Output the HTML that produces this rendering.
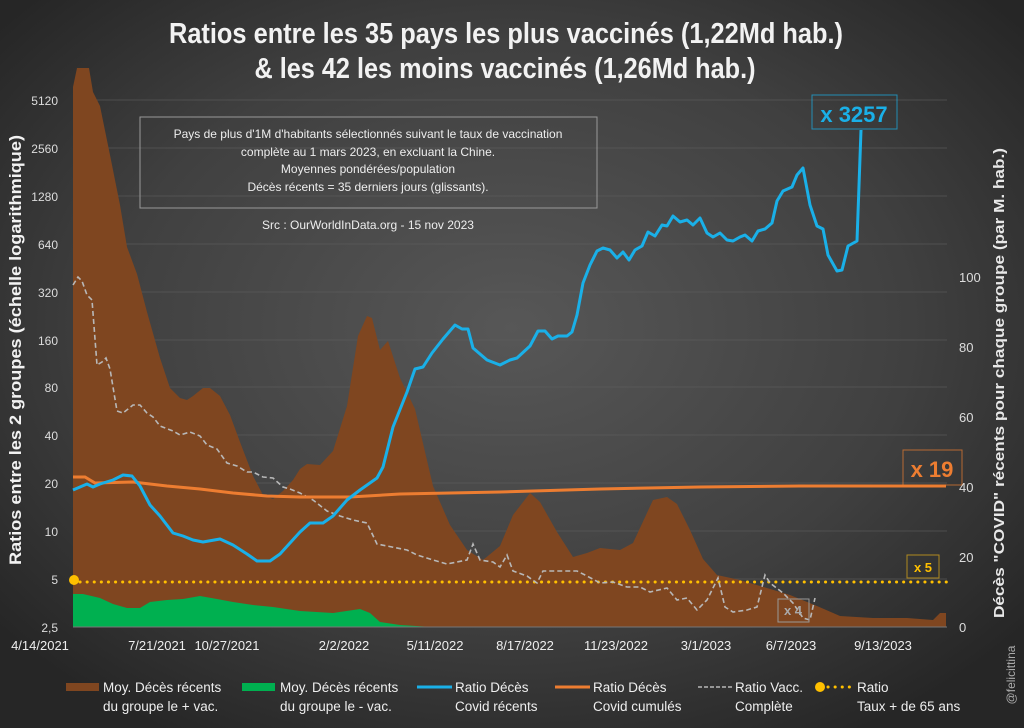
<!DOCTYPE html>
<html><head><meta charset="utf-8"><style>
html,body{margin:0;padding:0;background:#2b2b2b;}
svg{display:block;font-family:"Liberation Sans",sans-serif;}
</style></head><body>
<svg width="1024" height="728" viewBox="0 0 1024 728" xmlns="http://www.w3.org/2000/svg">
<defs>
<radialGradient id="bg" cx="50%" cy="45%" r="65%">
<stop offset="0" stop-color="#575757"/><stop offset="0.6" stop-color="#404040"/><stop offset="1" stop-color="#262626"/>
</radialGradient>
</defs>
<rect width="1024" height="728" fill="url(#bg)"/>
<g stroke="#5e5e5e" stroke-width="1" opacity="0.6">
<line x1="73" x2="947" y1="579" y2="579"/><line x1="73" x2="947" y1="531" y2="531"/>
<line x1="73" x2="947" y1="483" y2="483"/><line x1="73" x2="947" y1="435" y2="435"/>
<line x1="73" x2="947" y1="387" y2="387"/><line x1="73" x2="947" y1="340" y2="340"/>
<line x1="73" x2="947" y1="292" y2="292"/><line x1="73" x2="947" y1="244" y2="244"/>
<line x1="73" x2="947" y1="196" y2="196"/><line x1="73" x2="947" y1="148" y2="148"/>
<line x1="73" x2="947" y1="100" y2="100"/>
</g>
<path fill="#7f4620" d="M73,627 L73,87 77,68 89,68 93,92 100,106 110,155 120,205 127,247 137,274 147,312 160,358 170,388 180,398 187,400 193,396 203,388 210,388 220,396 230,415 240,442 253,476 263,495 273,499 283,491 293,480 300,469 307,464 320,465 333,451 347,406 358,336 367,316 372,318 380,350 388,341 400,378 415,409 433,486 450,525 467,550 483,560 500,546 513,515 530,493 540,502 557,532 573,557 587,553 600,548 620,550 633,543 653,500 667,497 677,504 690,530 703,559 717,575 740,580 767,588 790,595 817,606 840,616 873,618 907,618 933,620 940,613 946,613 946,627 Z"/>
<path fill="#00b050" d="M73,627 L73,594 83,594 100,598 113,604 127,608 140,608 150,602 167,600 183,599 200,596 217,599 233,602 253,605 273,607 300,611 333,613 360,609 370,613 380,622 400,625 433,627 Z"/>
<line x1="73" x2="947" y1="627" y2="627" stroke="#777" stroke-width="1"/>
<line x1="80" x2="947" y1="582" y2="582" stroke="#ffc000" stroke-width="3" stroke-dasharray="0.1 7" stroke-linecap="round"/>
<circle cx="74" cy="580" r="5" fill="#ffc000"/>
<polyline fill="none" stroke="#b8b8b8" stroke-width="1.6" stroke-dasharray="5 3" points="73,285 78,277 82,281 87,295 92,300 97,365 102,362 106,358 110,369 117,411 123,413 133,405 140,405 147,413 153,417 160,426 173,431 180,435 190,432 200,436 207,445 217,449 227,463 237,466 247,472 253,472 263,477 273,478 283,487 290,489 300,493 313,500 327,511 340,516 353,520 367,523 377,544 387,546 407,550 417,555 433,560 447,564 467,560 473,544 480,560 493,562 500,567 507,555 513,571 527,576 537,583 543,571 563,571 577,571 587,576 600,583 613,582 627,587 640,587 650,592 667,588 677,600 687,598 697,610 707,600 718,578 725,607 733,612 747,610 757,607 765,575 770,583 783,593 793,603 803,618 810,620 815,598"/>
<polyline fill="none" stroke="#ed7d31" stroke-width="3" points="73,477 85,477 95,483 133,482 167,486 200,489 233,493 267,496 300,497 350,497 400,494 500,492 600,489 700,487 800,486 946,486"/>
<polyline fill="none" stroke="#1ab0e8" stroke-width="3" stroke-linejoin="round" points="73,490 87,484 93,487 100,484 113,480 123,475 132,476 140,486 150,505 160,516 173,533 183,536 193,540 203,542 220,539 233,545 247,554 257,561 270,561 280,554 290,543 300,532 310,523 323,523 333,516 347,500 360,490 377,478 383,467 393,427 407,392 415,369 423,367 432,353 443,339 455,325 462,329 468,329 473,348 487,360 500,365 510,360 517,358 530,346 538,331 545,331 552,339 558,336 567,336 572,332 577,315 583,283 590,265 597,251 603,248 610,250 617,258 623,252 629,260 635,250 642,246 648,232 655,236 662,225 667,226 673,216 680,222 687,220 693,225 700,218 707,233 713,237 720,233 727,240 733,241 740,237 745,235 752,241 758,231 765,229 772,223 777,201 783,191 792,187 797,175 803,168 810,205 817,226 823,229 828,255 837,271 842,270 848,246 857,241 861,130"/>
<rect x="812" y="95" width="85" height="34" fill="none" stroke="#1ab0e8" stroke-width="1" opacity="0.7"/>
<text x="854" y="122" text-anchor="middle" font-size="22" font-weight="bold" fill="#1ab0e8">x 3257</text>
<rect x="903" y="450" width="59" height="35" fill="none" stroke="#ed7d31" stroke-width="1" opacity="0.7"/>
<text x="932" y="477" text-anchor="middle" font-size="22" font-weight="bold" fill="#ed7d31">x 19</text>
<rect x="907" y="555" width="32" height="23" fill="none" stroke="#b08a20" stroke-width="1"/>
<text x="923" y="572" text-anchor="middle" font-size="13" font-weight="bold" fill="#ffc000">x 5</text>
<rect x="778" y="599" width="31" height="23" fill="none" stroke="#999" stroke-width="1"/>
<text x="793" y="615" text-anchor="middle" font-size="13" font-weight="bold" fill="#aaa">x 4</text>
<rect x="140" y="117" width="457" height="91" fill="none" stroke="#999" stroke-width="1"/>
<g font-size="12" fill="#eee" text-anchor="middle">
<text x="368" y="138">Pays de plus d'1M d'habitants sélectionnés suivant le taux de vaccination</text>
<text x="368" y="156">complète au 1 mars 2023, en excluant la Chine.</text>
<text x="368" y="173">Moyennes pondérées/population</text>
<text x="368" y="191">Décès récents = 35 derniers jours (glissants).</text>
<text x="368" y="229">Src : OurWorldInData.org - 15 nov 2023</text>
</g>
<text x="506" y="43" text-anchor="middle" font-size="29" font-weight="bold" fill="#f2f2f2" textLength="674" lengthAdjust="spacingAndGlyphs">Ratios entre les 35 pays les plus vaccinés (1,22Md hab.)</text>
<text x="505" y="78" text-anchor="middle" font-size="29" font-weight="bold" fill="#f2f2f2" textLength="501" lengthAdjust="spacingAndGlyphs">&amp; les 42 les moins vaccinés (1,26Md hab.)</text>
<g font-size="12" fill="#dddddd" text-anchor="end">
<text x="58" y="105">5120</text><text x="58" y="153">2560</text><text x="58" y="201">1280</text>
<text x="58" y="249">640</text><text x="58" y="297">320</text><text x="58" y="345">160</text>
<text x="58" y="392">80</text><text x="58" y="440">40</text><text x="58" y="488">20</text>
<text x="58" y="536">10</text><text x="58" y="584">5</text><text x="58" y="632">2,5</text>
</g>
<g font-size="13" fill="#dddddd">
<text x="959" y="282">100</text><text x="959" y="352">80</text><text x="959" y="422">60</text>
<text x="959" y="492">40</text><text x="959" y="562">20</text><text x="959" y="632">0</text>
</g>
<g font-size="13" fill="#eeeeee" text-anchor="middle">
<text x="40" y="650">4/14/2021</text><text x="157" y="650">7/21/2021</text>
<text x="227" y="650">10/27/2021</text><text x="344" y="650">2/2/2022</text>
<text x="435" y="650">5/11/2022</text><text x="525" y="650">8/17/2022</text>
<text x="616" y="650">11/23/2022</text><text x="706" y="650">3/1/2023</text>
<text x="791" y="650">6/7/2023</text><text x="883" y="650">9/13/2023</text>
</g>
<text transform="translate(21,350) rotate(-90)" text-anchor="middle" font-size="17" font-weight="bold" fill="#f2f2f2" textLength="430" lengthAdjust="spacingAndGlyphs">Ratios entre les 2 groupes (échelle logarithmique)</text>
<text transform="translate(1004,383) rotate(-90)" text-anchor="middle" font-size="15" font-weight="bold" fill="#e8e8e8" textLength="470" lengthAdjust="spacingAndGlyphs">Décès "COVID" récents pour chaque groupe (par M. hab.)</text>
<text transform="translate(1015,675) rotate(-90)" text-anchor="middle" font-size="12" fill="#aaa">@felicittina</text>
<rect x="66" y="683" width="33" height="8" fill="#7f4620"/>
<rect x="242" y="683" width="33" height="8" fill="#00b050"/>
<line x1="417" x2="452" y1="687" y2="687" stroke="#1ab0e8" stroke-width="3"/>
<line x1="555" x2="590" y1="687" y2="687" stroke="#ed7d31" stroke-width="3"/>
<line x1="698" x2="733" y1="687" y2="687" stroke="#b8b8b8" stroke-width="1.6" stroke-dasharray="4 2"/>
<circle cx="820" cy="687" r="5" fill="#ffc000"/>
<line x1="828" x2="852" y1="687" y2="687" stroke="#ffc000" stroke-width="3" stroke-dasharray="0.1 7" stroke-linecap="round"/>
<g font-size="13.5" fill="#eeeeee">
<text x="103" y="692">Moy. Décès récents</text><text x="103" y="711">du groupe le + vac.</text>
<text x="280" y="692">Moy. Décès récents</text><text x="280" y="711">du groupe le - vac.</text>
<text x="455" y="692">Ratio Décès</text><text x="455" y="711">Covid récents</text>
<text x="593" y="692">Ratio Décès</text><text x="593" y="711">Covid cumulés</text>
<text x="735" y="692">Ratio Vacc.</text><text x="735" y="711">Complète</text>
<text x="857" y="692">Ratio</text><text x="857" y="711">Taux + de 65 ans</text>
</g>
</svg>
</body></html>
